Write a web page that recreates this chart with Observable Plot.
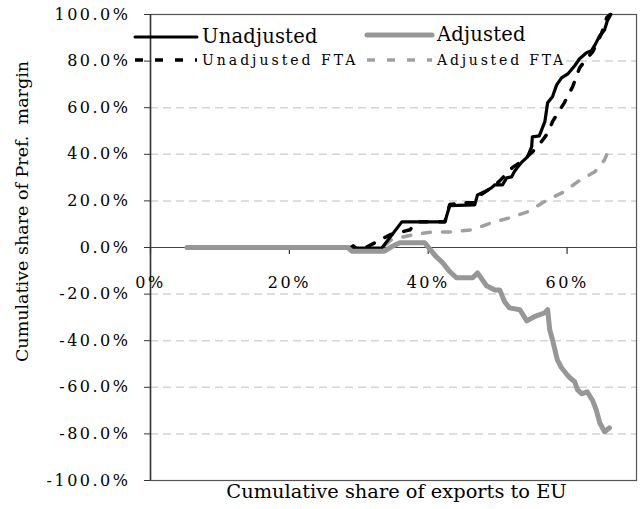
<!DOCTYPE html>
<html><head><meta charset="utf-8">
<script src="https://cdn.jsdelivr.net/npm/d3@7"></script>
<script src="https://cdn.jsdelivr.net/npm/@observablehq/plot@0.6"></script>
<style>
body{margin:0;background:#fff;}
#chart svg{display:block;}
</style></head><body><div id="chart"></div>
<script>
// ---- data ----
const unadjX = [5.3, 28.9, 29.2, 29.6, 33.3, 36.2, 42.4, 43.1, 46.7, 47.1, 48.1, 49.1, 49.6, 50.7, 51.3, 52.0, 52.4, 52.9, 53.4, 54.3, 54.9, 55.0, 56.0, 56.8, 57.2, 57.9, 58.5, 59.2, 60.1, 61.1, 61.8, 62.8, 63.5, 64.1, 64.7, 65.4, 65.8, 66.3];
const unadjY = [0, 0, 0.8, -0.3, -0.3, 11, 11, 18, 18.3, 22.6, 23.9, 25.6, 26.9, 26.9, 29.9, 30.3, 32.5, 34.6, 36.4, 38.9, 43.2, 47.5, 47.9, 54, 62.1, 64.7, 69.8, 72.8, 74.5, 78, 81, 83.6, 84.4, 87.4, 90.9, 93.4, 97.3, 100];

const adjX = [5.25, 28.4, 29.0, 33.7, 34.7, 35.9, 39.5, 40.2, 41.0, 42.1, 43.1, 44.1, 46.4, 47.1, 48.4, 49.6, 50.3, 51.0, 51.7, 53.2, 54.2, 55.3, 56.8, 57.2, 57.5, 57.9, 58.6, 59.2, 59.9, 60.4, 61.1, 61.5, 62.1, 62.9, 63.7, 64.2, 64.7, 65.4, 66.1];
const adjY = [0, 0, -1.6, -1.6, 0.3, 2, 2, -0.5, -3.5, -6.6, -10.4, -13, -13, -10.9, -16.4, -18.2, -18.2, -23.3, -25.9, -26.7, -31.5, -29.7, -28, -26.7, -35.3, -39.6, -48.2, -51.6, -54.2, -55.9, -57.6, -61, -62.8, -61.9, -65.8, -69.7, -75.2, -79.1, -77.4];

const unadjFtaX = [5.3, 29.5, 31.0, 32.3, 34.5, 37.4, 38.2, 42.4, 43.1, 45.2, 46.8, 47.5, 49.3, 50.3, 52.2, 53.5, 55.0, 56.3, 57.2, 57.9, 59.6, 60.8, 61.8, 62.8, 63.7, 65.0, 65.7, 66.2];
const unadjFtaY = [0, 0, 0, 2, 5.5, 7.6, 11, 11, 18.5, 19.2, 19.2, 22.5, 26, 28.6, 34.5, 37, 41, 45.4, 49, 54, 62.1, 69, 77.1, 81, 84, 92.1, 98.6, 100];

const adjFtaX = [5.3, 28.5, 29.5, 33.0, 34.7, 37.8, 40.6, 43.5, 46.3, 49.1, 51.7, 54.3, 57.2, 59.6, 61.5, 64.0, 65.4, 65.7];
const adjFtaY = [0, 0, -1, -1, 3.3, 5.5, 6.7, 6.7, 7.6, 10.6, 12.7, 15.3, 20.5, 23.9, 28.2, 32.5, 37.6, 39.8];

const yTicks = [-100, -80, -60, -40, -20, 0, 20, 40, 60, 80, 100];
const gridTicks = [-80, -60, -40, -20, 20, 40, 60, 80];
const xTicks = [0, 20, 40, 60];
const xTitle = "Cumulative share of exports to EU";
const yTitle = "Cumulative share of Pref.  margin";
const seriesNames = ["Unadjusted", "Adjusted", "Unadjusted FTA", "Adjusted FTA"];

const rows = (xs, ys) => xs.map((x, i) => ({x, y: ys[i]}));
const FONT = "DejaVu Serif, serif";
const tickShape = {draw(ctx, l) { ctx.moveTo(0, 0); ctx.lineTo(0, -l); }};

const chart = Plot.plot({
  width: 641, height: 509,
  marginLeft: 150, marginRight: 5, marginTop: 14, marginBottom: 29,
  style: {fontFamily: FONT, fontSize: "16px", color: "#000", background: "#fff", overflow: "visible"},
  x: {domain: [0, 70], axis: null},
  y: {domain: [-100, 100], axis: null},
  marks: [
    Plot.ruleY(gridTicks, {stroke: "#d4d4d4", strokeDasharray: "8,5", strokeWidth: 1.5}),
    Plot.frame({stroke: "#555", strokeWidth: 1.2}),
    Plot.ruleY([0], {stroke: "#444", strokeWidth: 1.2}),
    Plot.ruleX([0], {stroke: "#333", strokeWidth: 1.5}),
    Plot.axisY({ticks: yTicks, tickFormat: d => d.toFixed(1) + "%", tickSize: 6, tickPadding: 14, fontSize: 16, stroke: "#333", label: null}),
    Plot.vector(xTicks, {x: d => d, y: 0, length: 6, rotate: 180, anchor: "start", shape: tickShape, stroke: "#333", strokeWidth: 1.2}),
    Plot.text(xTicks, {x: d => d, y: 0, text: d => d + "%", dy: 35, fontSize: 16}),
    Plot.line(rows(adjFtaX, adjFtaY), {x: "x", y: "y", stroke: "#a0a0a0", strokeWidth: 3.5, strokeDasharray: "8,12"}),
    Plot.line(rows(unadjFtaX, unadjFtaY), {x: "x", y: "y", stroke: "#000", strokeWidth: 3.5, strokeDasharray: "8,12"}),
    Plot.line(rows(unadjX, unadjY), {x: "x", y: "y", stroke: "#000", strokeWidth: 3.2}),
    Plot.line(rows(adjX, adjY), {x: "x", y: "y", stroke: "#979797", strokeWidth: 5, strokeLinejoin: "round"}),
    Plot.text([xTitle], {frameAnchor: "bottom", lineAnchor: "middle", textAnchor: "middle", dy: 11, dx: 3, fontSize: 19.4}),
    Plot.text([yTitle], {frameAnchor: "left", textAnchor: "middle", lineAnchor: "middle", rotate: -90, dx: -128, dy: -36, fontSize: 17.5})
  ]
});
document.getElementById("chart").appendChild(chart);

const svg = d3.select(chart);
svg.selectAll("text").filter(function() { return /%$/.test(this.textContent); })
  .attr("letter-spacing", "2.5px");

// legend (inside plot, top)
const legendSpec = [
  {name: seriesNames[0], x: 135, y: 37, stroke: "#000", w: 3, dash: null, fs: 19.5, ls: 0.2},
  {name: seriesNames[1], x: 367, y: 35, stroke: "#979797", w: 5, dash: null, fs: 19.5, ls: 0.2},
  {name: seriesNames[2], x: 135, y: 60, stroke: "#000", w: 3.5, dash: "8,12", fs: 14, ls: 3},
  {name: seriesNames[3], x: 367, y: 60, stroke: "#a0a0a0", w: 3.5, dash: "8,12", fs: 14, ls: 2.8}
];
const lg = svg.append("g").attr("font-family", FONT).attr("text-anchor", "start");
lg.append("rect").attr("x", 152).attr("y", 24).attr("width", 414).attr("height", 47).attr("fill", "#fff");
for (const s of legendSpec) {
  const len = s.x === 135 ? 62 : 65;
  lg.append("line").attr("x1", s.x).attr("x2", s.x + len).attr("y1", s.y).attr("y2", s.y)
    .attr("stroke", s.stroke).attr("stroke-width", s.w).attr("stroke-dasharray", s.dash)
    .attr("stroke-linecap", s.dash ? "butt" : "round");
  lg.append("text").attr("x", s.x + len + 5).attr("y", s.y + (s.fs > 15 ? 6 : 5))
    .attr("text-anchor", "start")
    .attr("font-size", s.fs).attr("letter-spacing", s.ls + "px").attr("fill", "#000").text(s.name);
}
</script></body></html>
